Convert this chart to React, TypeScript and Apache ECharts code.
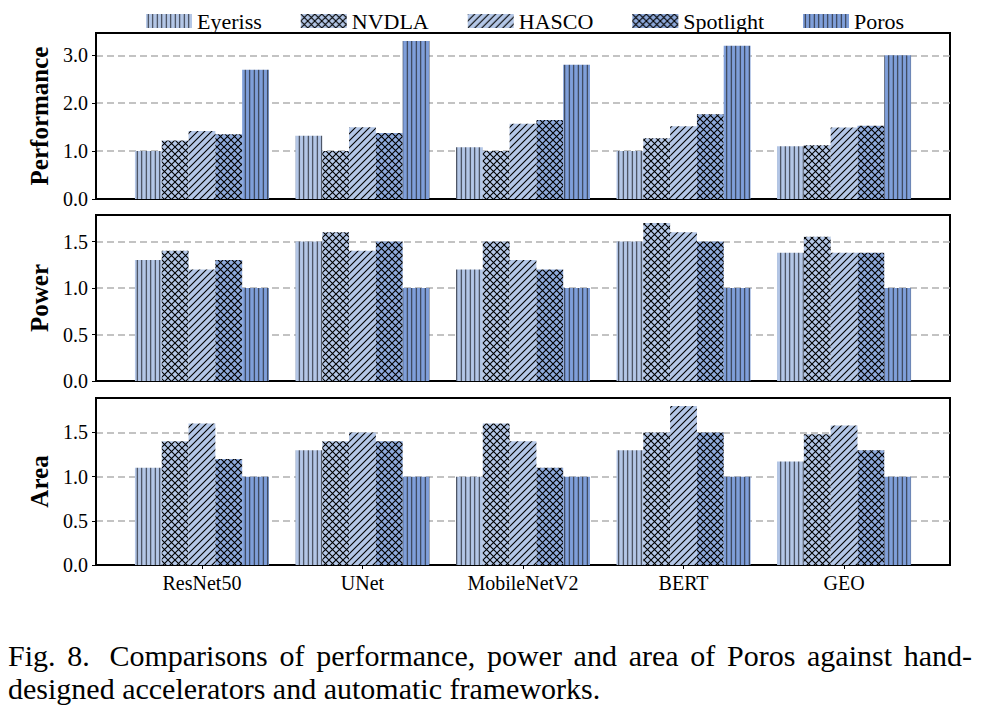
import React, { useEffect, useRef } from 'react';
import * as echarts from 'echarts';

const categories = ['ResNet50', 'UNet', 'MobileNetV2', 'BERT', 'GEO'];
const frameworks = ['Eyeriss', 'NVDLA', 'HASCO', 'Spotlight', 'Poros'];

// Performance
const perfEyeriss = [1.0, 1.32, 1.08, 1.0, 1.1];
const perfNVDLA = [1.22, 1.0, 1.0, 1.27, 1.12];
const perfHASCO = [1.42, 1.5, 1.57, 1.52, 1.49];
const perfSpotlight = [1.35, 1.38, 1.65, 1.77, 1.53];
const perfPoros = [2.7, 3.3, 2.8, 3.2, 3.0];

// Power
const powEyeriss = [1.3, 1.5, 1.2, 1.5, 1.38];
const powNVDLA = [1.4, 1.6, 1.5, 1.7, 1.55];
const powHASCO = [1.2, 1.4, 1.3, 1.6, 1.38];
const powSpotlight = [1.3, 1.5, 1.2, 1.5, 1.38];
const powPoros = [1.0, 1.0, 1.0, 1.0, 1.0];

// Area
const areaEyeriss = [1.1, 1.3, 1.0, 1.3, 1.17];
const areaNVDLA = [1.4, 1.4, 1.6, 1.5, 1.48];
const areaHASCO = [1.6, 1.5, 1.4, 1.8, 1.58];
const areaSpotlight = [1.2, 1.4, 1.1, 1.5, 1.3];
const areaPoros = [1.0, 1.0, 1.0, 1.0, 1.0];

const perfTicks = [0, 1, 2, 3];
const powTicks = [0, 0.5, 1.0, 1.5];
const areaTicks = [0, 0.5, 1.0, 1.5];

const panelNames = ['Performance', 'Power', 'Area'];

const captionLine1 = 'Fig. 8.  Comparisons of performance, power and area of Poros against hand-';
const captionLine2 = 'designed accelerators and automatic frameworks.';

const SERIF = 'Liberation Serif';

function svgUrl(svg: string) {
  return 'data:image/svg+xml;charset=utf-8,' + encodeURIComponent(svg);
}

function verticalPattern(base: string, s: number) {
  const svg = `<svg xmlns="http://www.w3.org/2000/svg" width="${s}" height="${s}" viewBox="0 0 ${s} ${s}"><rect width="${s}" height="${s}" fill="${base}"/><line x1="${s / 2}" y1="-1" x2="${s / 2}" y2="${s + 1}" stroke="#2a2e38" stroke-width="1"/></svg>`;
  return { image: svgUrl(svg), repeat: 'repeat', imageWidth: s, imageHeight: s };
}

function crossPattern(base: string, s: number) {
  const svg = `<svg xmlns="http://www.w3.org/2000/svg" width="${s}" height="${s}" viewBox="0 0 ${s} ${s}"><rect width="${s}" height="${s}" fill="${base}"/><path d="M-1,-1L${s + 1},${s + 1}M${s + 1},-1L-1,${s + 1}" stroke="#000" stroke-width="1.1" fill="none"/></svg>`;
  return { image: svgUrl(svg), repeat: 'repeat', imageWidth: s, imageHeight: s };
}

function diagPattern(base: string, s: number) {
  const svg = `<svg xmlns="http://www.w3.org/2000/svg" width="${s}" height="${s}" viewBox="0 0 ${s} ${s}"><rect width="${s}" height="${s}" fill="${base}"/><path d="M-1,${s + 1}L${s + 1},-1M-1,1L1,-1M${s - 1},${s + 1}L${s + 1},${s - 1}" stroke="#000" stroke-width="1.1" fill="none"/></svg>`;
  return { image: svgUrl(svg), repeat: 'repeat', imageWidth: s, imageHeight: s };
}

export default function App() {
  const ref = useRef<HTMLDivElement>(null);

  useEffect(() => {
    if (!ref.current) return;
    const chart = echarts.init(ref.current, null, { renderer: 'svg' });

    const patterns = [
      verticalPattern('#b4c7e7', 4.5),
      crossPattern('#b4c7e7', 7),
      diagPattern('#b4c7e7', 7),
      crossPattern('#8eaadc', 7),
      verticalPattern('#7f9fda', 4.5),
    ];

    const panels = [
      { values: [perfEyeriss, perfNVDLA, perfHASCO, perfSpotlight, perfPoros], ticks: perfTicks, max: 3.465, interval: 1, top: 33, height: 166 },
      { values: [powEyeriss, powNVDLA, powHASCO, powSpotlight, powPoros], ticks: powTicks, max: 1.785, interval: 0.5, top: 215, height: 166 },
      { values: [areaEyeriss, areaNVDLA, areaHASCO, areaSpotlight, areaPoros], ticks: areaTicks, max: 1.89, interval: 0.5, top: 398, height: 167 },
    ];

    const catIdx = categories.map((_, i) => i);

    const grid = panels.map((p) => ({
      left: 96,
      right: 31,
      top: p.top,
      height: p.height,
      show: true,
      borderColor: '#000',
      borderWidth: 2,
      backgroundColor: 'transparent',
    }));

    const xAxis = panels.map((_, i) => ({
      type: 'value',
      gridIndex: i,
      min: -0.66,
      max: 4.66,
      axisLine: { show: true, onZero: false, lineStyle: { color: '#000', width: 2 } },
      splitLine: { show: false },
      axisTick: { show: i === 2, customValues: catIdx, length: 4, lineStyle: { color: '#000', width: 1 } },
      axisLabel: {
        show: i === 2,
        customValues: catIdx,
        formatter: (v: number) => categories[Math.round(v)] ?? '',
        fontSize: 20,
        fontFamily: SERIF,
        color: '#000',
        margin: 8,
      },
    }));

    const yAxis = panels.map((p, i) => ({
      type: 'value',
      gridIndex: i,
      min: 0,
      max: p.max,
      interval: p.interval,
      name: panelNames[i],
      nameLocation: 'middle',
      nameGap: 38,
      nameTextStyle: { fontSize: 25, fontWeight: 'bold', fontFamily: SERIF, color: '#000' },
      axisLine: { show: true, onZero: false, lineStyle: { color: '#000', width: 2 } },
      axisTick: { show: true, customValues: p.ticks, length: 4, lineStyle: { color: '#000', width: 1 } },
      axisLabel: {
        customValues: p.ticks,
        formatter: (v: number) => v.toFixed(1),
        fontSize: 20,
        fontFamily: SERIF,
        color: '#000',
        margin: 8,
      },
      splitLine: {
        show: true,
        lineStyle: { color: '#b0b0b0', type: [7, 4], width: 1.5 },
      },
    }));

    const series: any[] = [];
    panels.forEach((p, pi) => {
      frameworks.forEach((name, fi) => {
        series.push({
          type: 'bar',
          name,
          xAxisIndex: pi,
          yAxisIndex: pi,
          data: p.values[fi].map((v, ci) => [ci, v]),
          barWidth: 26.8,
          barGap: '0%',
          itemStyle: { color: patterns[fi] },
          emphasis: { disabled: true },
          silent: true,
        });
      });
    });

    // caption as titles; first line justified using text measurement
    const capSize = 30;
    const capStyle = { fontSize: capSize, fontFamily: SERIF, fontWeight: 'normal' as const, color: '#000' };
    const titles: any[] = [];
    const canvas = document.createElement('canvas');
    const ctx = canvas.getContext('2d');
    const capLeft = 8;
    const capRight = 972;
    const words = captionLine1.split(/\s+/);
    if (ctx) {
      ctx.font = `${capSize}px "${SERIF}"`;
      const widths = words.map((w) => ctx.measureText(w).width);
      const total = widths.reduce((a, b) => a + b, 0);
      const gap = (capRight - capLeft - total - 8) / (words.length - 1);
      let x = capLeft;
      words.forEach((w, i) => {
        if (i === 2) x += 8;
        titles.push({ text: w, left: x, top: 640, padding: 0, textStyle: capStyle });
        x += widths[i] + gap;
      });
    } else {
      titles.push({ text: captionLine1, left: capLeft, top: 640, padding: 0, textStyle: capStyle });
    }
    titles.push({ text: captionLine2, left: capLeft, top: 673, padding: 0, textStyle: capStyle });

    chart.setOption({
      animation: false,
      backgroundColor: '#fff',
      title: titles,
      legend: {
        data: frameworks,
        top: 5,
        left: 141,
        itemWidth: 46,
        itemHeight: 14,
        itemGap: 39,
        icon: 'rect',
        selectedMode: false,
        textStyle: { fontSize: 22, fontFamily: SERIF, color: '#000' },
      },
      grid,
      xAxis,
      yAxis,
      series,
    });

    return () => {
      chart.dispose();
    };
  }, []);

  return (
    <div
      ref={ref}
      style={{ position: 'fixed', left: 0, top: 0, width: 981, height: 706, background: '#fff' }}
    />
  );
}
